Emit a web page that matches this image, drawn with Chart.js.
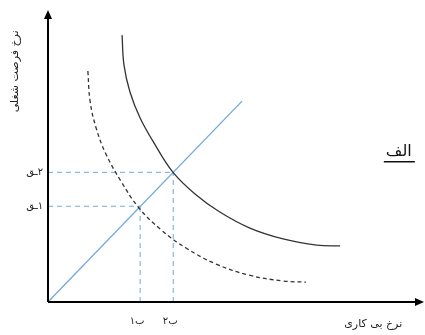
<!DOCTYPE html>
<html><head><meta charset="utf-8">
<script src="https://cdn.jsdelivr.net/npm/chart.js@4/dist/chart.umd.min.js"></script>
<style>html,body{margin:0;padding:0;background:#fff}#wrap{width:425px;height:335px}</style>
</head><body><div id="wrap"><canvas id="c" width="425" height="335"></canvas></div>
<script>
// Curve data (arbitrary units 0..10)
const solidX = [1.97, 2.02, 2.18, 2.45, 2.85, 3.32, 3.91, 4.57, 5.37, 6.25, 7.15, 7.77];
const solidY = [9.14, 8.12, 7.19, 6.30, 5.38, 4.45, 3.70, 3.08, 2.53, 2.16, 1.95, 1.92];
const dashX  = [1.06, 1.12, 1.28, 1.54, 1.94, 2.42, 3.01, 3.67, 4.47, 5.35, 6.25, 6.86];
const dashY  = [7.91, 6.88, 5.96, 5.07, 4.14, 3.22, 2.47, 1.85, 1.30, 0.92, 0.72, 0.68];
const lineX  = [0, 5.16];
const lineY  = [0, 6.88];
// equilibrium points
const eqX = [2.45, 3.33];
const eqY = [3.28, 4.44];
const yTickLabels = ["\u202Dقـ۱\u202C", "\u202Dقـ۲\u202C"];
const xTickLabels = ["ب۱", "ب۲"];
const xTitle = "نرخ بی کاری";
const yTitle = "نرخ فرصت شغلی";
const panelLabel = "الف";

const pts = (xs, ys) => xs.map((x, i) => ({x, y: ys[i]}));
const blue = '#6fa8dc';
const FONT = '"DejaVu Sans", sans-serif';

const refDatasets = [];
eqX.forEach((x, i) => {
  refDatasets.push({data: [{x: 0, y: eqY[i]}, {x: x, y: eqY[i]}], borderColor: blue, borderWidth: 1, borderDash: [5, 4], pointRadius: 0, showLine: true, tension: 0});
  refDatasets.push({data: [{x: x, y: 0}, {x: x, y: eqY[i]}], borderColor: blue, borderWidth: 1, borderDash: [5, 4], pointRadius: 0, showLine: true, tension: 0});
});

const annot = {
  id: 'annot',
  afterDatasetsDraw(chart) {
    const {ctx, scales: {x, y}} = chart;
    ctx.save();
    const x0 = x.getPixelForValue(0), y0 = y.getPixelForValue(0);
    const xEnd = x.getPixelForValue(10), yEnd = y.getPixelForValue(10);
    ctx.strokeStyle = '#000'; ctx.fillStyle = '#000'; ctx.lineWidth = 2;
    ctx.beginPath(); ctx.moveTo(x0, y0); ctx.lineTo(xEnd - 6, y0); ctx.stroke();
    ctx.beginPath(); ctx.moveTo(x0, y0); ctx.lineTo(x0, yEnd + 6); ctx.stroke();
    ctx.beginPath(); ctx.moveTo(xEnd, y0); ctx.lineTo(xEnd - 9, y0 - 4); ctx.lineTo(xEnd - 9, y0 + 4); ctx.closePath(); ctx.fill();
    ctx.beginPath(); ctx.moveTo(x0, yEnd); ctx.lineTo(x0 - 4, yEnd + 9); ctx.lineTo(x0 + 4, yEnd + 9); ctx.closePath(); ctx.fill();
    ctx.fillStyle = '#222';
    ctx.font = '10px ' + FONT;
    ctx.textBaseline = 'middle';
    ctx.textAlign = 'right';
    eqY.forEach((v, i) => ctx.fillText(yTickLabels[i], x0 - 5, y.getPixelForValue(v)));
    ctx.textAlign = 'center';
    ctx.textBaseline = 'top';
    eqX.forEach((v, i) => ctx.fillText(xTickLabels[i], x.getPixelForValue(v) - 3, y0 + 14));
    ctx.font = '11px ' + FONT;
    ctx.textAlign = 'center';
    ctx.fillText(xTitle, x.getPixelForValue(8.65), y0 + 17);
    ctx.save();
    ctx.translate(x0 - 33, y.getPixelForValue(7.9));
    ctx.rotate(-Math.PI / 2);
    ctx.textBaseline = 'middle';
    ctx.fillText(yTitle, 0, 0);
    ctx.restore();
    ctx.font = '16px ' + FONT;
    ctx.textAlign = 'center';
    ctx.textBaseline = 'alphabetic';
    const px = x.getPixelForValue(9.33), py = y.getPixelForValue(5.0);
    ctx.fillStyle = '#111';
    ctx.fillText(panelLabel, px, py);
    ctx.fillRect(px - 15, py + 5, 31, 1.5);
    ctx.restore();
  }
};

new Chart(document.getElementById('c'), {
  type: 'scatter',
  data: {
    datasets: [
      {data: pts(solidX, solidY), borderColor: '#333', borderWidth: 1.3, pointRadius: 0, showLine: true, tension: 0.4},
      {data: pts(dashX, dashY), borderColor: '#333', borderWidth: 1.3, borderDash: [4, 3], pointRadius: 0, showLine: true, tension: 0.4},
      {data: pts(lineX, lineY), borderColor: blue, borderWidth: 1.3, pointRadius: 0, showLine: true, tension: 0},
      ...refDatasets
    ]
  },
  options: {
    responsive: false,
    animation: false,
    events: [],
    layout: {padding: {left: 48, top: 10, right: 1, bottom: 33}},
    plugins: {legend: {display: false}, tooltip: {enabled: false}},
    scales: {
      x: {type: 'linear', min: 0, max: 10, display: false},
      y: {type: 'linear', min: 0, max: 10, display: false}
    }
  },
  plugins: [annot]
});
</script></body></html>
